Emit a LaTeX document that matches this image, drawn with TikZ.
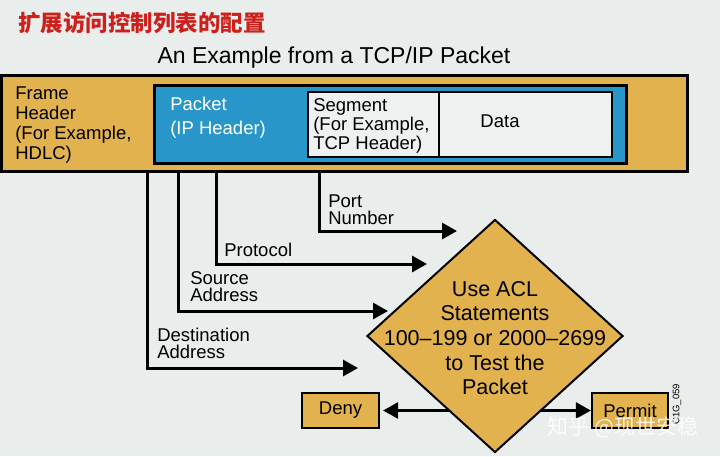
\documentclass[tikz,border=0pt]{standalone}
\usepackage{fontspec}
\setmainfont{Liberation Sans}
\newfontfamily\cjk{Noto Sans CJK SC}
\usetikzlibrary{arrows.meta,shapes.geometric}
\definecolor{aclorange}{RGB}{226,178,78}
\definecolor{pktblue}{RGB}{40,150,200}
\definecolor{bggray}{RGB}{233,237,235}
\definecolor{segwhite}{RGB}{238,241,239}
\definecolor{titlered}{RGB}{205,32,28}
\begin{document}
\begin{tikzpicture}[x=1pt,y=-1pt,line join=miter,>={Triangle[length=15pt,width=16pt]},line width=2.6pt]
			\tikzset{every node/.style={inner sep=0pt,font=\fontsize{18.5}{19}\selectfont},
				hdrbox/.style={draw,rectangle,anchor=north west},
				lbl/.style={align=left,anchor=north west,font=\fontsize{18.5}{17}\selectfont},
				flow/.style={->,line width=3pt}}
			\fill[bggray] (0,0) rectangle (720,456);
			\useasboundingbox (0,0) rectangle (720,456);
			% titles
			\node[anchor=west,text=titlered,font=\cjk\bfseries\fontsize{22.5}{23}\selectfont] (title) at (17,23) {扩展访问控制列表的配置};
			\node[anchor=base,font=\fontsize{23}{24}\selectfont] (subtitle) at (334,63) {An Example from a TCP/IP Packet};
			% the frame
			\node[hdrbox,fill=aclorange,minimum width=686pt,minimum height=96pt] (frame) at (0,74) {};
			\node[hdrbox,fill=pktblue,minimum width=472pt,minimum height=78pt] (packet) at (153,84) {};
			\node[hdrbox,fill=segwhite,line width=1.5pt,minimum width=131pt,minimum height=65pt] (segment) at (307,91) {};
			\node[hdrbox,fill=segwhite,line width=1.5pt,minimum width=173pt,minimum height=65pt] (data) at (438,91) {};
			\node[align=left,anchor=north west,font=\fontsize{18.5}{20.3}\selectfont] (frametxt) at (14,85) {Frame\\Header\\(For Example,\\HDLC)};
			\node[align=left,anchor=north west,text=white,font=\fontsize{18.5}{24}\selectfont] (packettxt) at (169,96) {Packet\\(IP Header)};
			\node[align=left,anchor=north west,font=\fontsize{18.5}{19.2}\selectfont] (segmenttxt) at (312,97) {Segment\\(For Example,\\TCP Header)};
			\node[anchor=base] (datatxt) at (500,127) {Data};
			% fields into the test
			\foreach \nm/\x/\y/\tip in {port/319/231/457,proto/216/264/427,src/178/311/388,dst/147/368/358}{
				\coordinate (\nm-a) at (\x,170);
				\coordinate (\nm-b) at (\tip,\y);
				\draw[flow] (\nm-a) |- (\nm-b);
			}
			\node[lbl] (portlbl) at (327,193) {Port\\Number};
			\node[anchor=base west] (protolbl) at (223,256) {Protocol};
			\node[lbl] (srclbl) at (189,270) {Source\\Address};
			\node[lbl] (dstlbl) at (156,327) {Destination\\Address};
			% decision
			\node[draw,fill=aclorange,line width=2.2pt,minimum width=77pt,minimum height=35pt] (deny) at (340.5,410.5) {Deny};
			\node[draw,fill=aclorange,line width=2.2pt,minimum width=76pt,minimum height=35pt] (permit) at (630,410.5) {Permit};
			\draw[<->,shorten <=3pt] (deny.east) -- (permit.west);
			\node[diamond,draw,fill=aclorange,line width=2pt,minimum width=256pt,minimum height=233pt] (acl) at (495,336) {};
			\node[align=center,font=\fontsize{21.5}{24.7}\selectfont] (acltxt) at (495,338) {Use ACL\\Statements\\100--199 or 2000--2699\\to Test the\\Packet};
			\node[rotate=90,anchor=west,font=\fontsize{9.5}{10}\selectfont] (figid) at (677,426) {C1G\_059};
			\node[text=white,opacity=0.85,font=\cjk\fontsize{21}{21}\selectfont] (wm) at (623,427) {知乎 @现世安稳};
		\end{tikzpicture}
\end{document}
